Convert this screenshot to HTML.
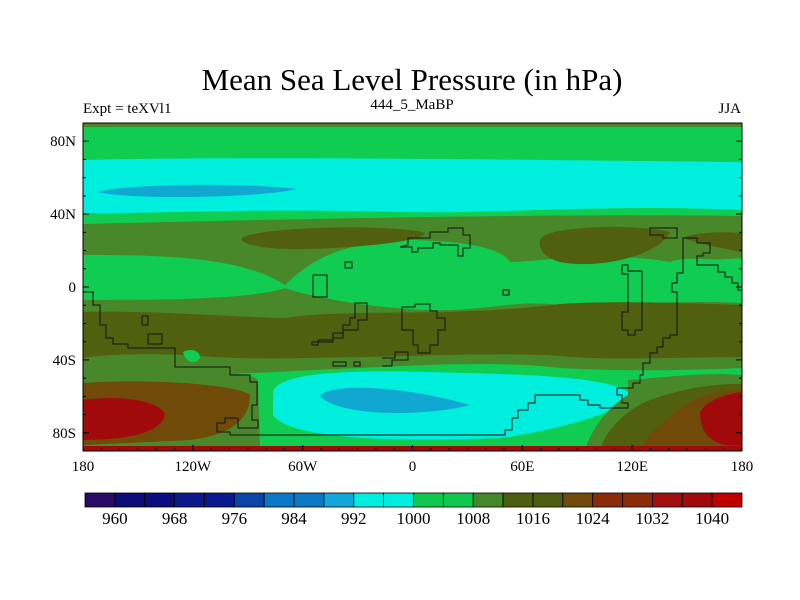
<!DOCTYPE html>
<html><head><meta charset="utf-8"><style>
html,body{margin:0;padding:0;background:#fff;}
svg{display:block;font-family:"Liberation Serif",serif;}
</style></head><body>
<svg width="800" height="600" viewBox="0 0 800 600">
<text x="412" y="90" font-size="31" text-anchor="middle">Mean Sea Level Pressure (in hPa)</text>
<text x="83" y="113" font-size="15">Expt = teXVl1</text>
<text x="412" y="109" font-size="15" text-anchor="middle">444_5_MaBP</text>
<text x="741" y="113" font-size="15" text-anchor="end">JJA</text>
<defs><clipPath id="pc"><rect x="83" y="123" width="659" height="328"/></clipPath></defs>
<g clip-path="url(#pc)">
<rect x="83" y="123" width="659" height="328" fill="#10cc50"/>
<rect x="83" y="123" width="659" height="4" fill="#48882a"/>
<path d="M83,160 C250,156 550,160 742,162 L742,210 C600,204 500,214 400,212 C250,208 150,214 83,213 Z" fill="#00eedd"/>
<path d="M98,192 C130,183 250,183 297,189 C260,198 130,200 98,192 Z" fill="#10a8d0"/>
<path d="M83,224 C250,220 550,213 742,216 L742,258 C700,262 690,255 670,262 C600,250 540,262 510,262 C500,245 450,240 400,240 C340,244 310,260 285,285 C240,255 150,255 83,255 Z" fill="#48882a"/>
<path d="M242,238 C260,226 400,224 425,233 C420,245 300,252 270,248 C250,246 240,242 242,238 Z" fill="#50600e"/>
<path d="M540,240 C545,225 640,224 670,232 C660,255 600,270 560,262 C545,258 538,250 540,240 Z" fill="#50600e"/>
<path d="M683,238 C700,230 742,232 742,234 L742,252 C720,248 700,244 683,238 Z" fill="#50600e"/>
<path d="M83,300 C150,300 250,300 285,288 C320,300 400,312 450,310 C500,308 520,300 560,305 C620,305 690,300 742,303 L742,368 C650,372 600,370 560,368 C500,360 400,366 360,368 C300,370 250,375 83,378 Z" fill="#48882a"/>
<path d="M83,312 C150,310 250,318 285,318 C350,308 450,318 560,304 C620,300 700,304 742,305 L742,357 C650,358 600,360 560,356 C500,352 430,356 360,357 C300,358 250,360 200,356 C150,352 100,355 83,358 Z" fill="#50600e"/>
<path d="M183,352 C190,348 200,350 200,358 C195,366 185,362 183,352 Z" fill="#10cc50"/>
<path d="M83,370 C200,368 250,372 258,380 L260,451 L83,451 Z" fill="#48882a"/>
<path d="M83,383 C150,378 240,385 250,395 C250,420 230,435 190,440 L83,445 Z" fill="#704a08"/>
<path d="M83,400 C120,395 160,400 165,415 C160,435 120,440 83,440 Z" fill="#a00a0a"/>
<path d="M273,392 C278,372 350,370 430,372 C500,374 620,375 630,395 C628,410 560,430 500,438 C400,442 290,440 273,415 Z" fill="#00eedd"/>
<path d="M320,396 C330,383 400,385 470,405 C430,416 340,418 320,396 Z" fill="#10a8d0"/>
<path d="M628,380 C660,378 700,372 742,375 L742,451 L585,451 C590,430 610,405 628,395 Z" fill="#48882a"/>
<path d="M645,402 C680,388 720,383 742,384 L742,451 L600,451 C605,430 625,412 645,402 Z" fill="#50600e"/>
<path d="M665,422 C685,398 720,388 742,390 L742,451 L640,451 C645,440 652,430 665,422 Z" fill="#704a08"/>
<path d="M700,412 C710,395 742,392 742,392 L742,445 C720,448 700,440 700,412 Z" fill="#a00a0a"/>
<rect x="83" y="446" width="659" height="5" fill="#a00a0a"/>
<g fill="none" stroke="#111" stroke-width="1">
<polyline points="83,292 93,292 93,305 100,305 100,325 106,325 106,338 113,338 113,344 128,344 128,348 175,348 175,367 230,367 230,375 250,375 250,382 257,382 257,405 252,405 252,420 258,420 258,428 238,428 238,418 225,418 225,423 217,423 217,432 230,432 230,435 505,435 505,430 512,430 512,418 518,418 518,410 528,410 528,403 535,403 535,395 580,395 580,400 588,400 588,405 600,405 600,408 628,408 628,403 622,403 622,395 617,395 617,388 633,388 633,383 640,383 640,375 643,375 643,363 650,363 650,353 657,353 657,347 663,347 663,338 670,338 670,335 677,335 677,292 672,292 672,283 677,283 677,273 683,273 683,238 697,238 697,243 710,243 710,253 703,253 703,256 697,256 697,265 718,265 718,272 725,272 725,277 732,277 732,283 738,283 738,290 742,290"/>
<rect x="313" y="275" width="14" height="22"/>
<rect x="142" y="316" width="6" height="9"/>
<rect x="148" y="334" width="14" height="10"/>
<polyline points="312,345 318,345 318,340 333,340 333,333 343,333 343,325 350,325 350,318 355,318 355,303 367,303 367,320 358,320 358,330 343,330 343,338 333,338 333,342 312,342 312,345"/>
<path d="M402,307 H415 V304 H430 V311 H437 V318 H445 V330 H438 V345 H430 V353 H418 V345 H413 V330 H402 Z"/>
<polyline points="400,247 408,245 408,238 430,238 430,232 448,232 448,228 463,228 463,235 470,235 470,248 463,248 463,256 458,256 458,245 440,245 440,243 433,243 433,248 418,248 418,252 412,252 412,247 400,247"/>
<path d="M622,265 H628 V271 H642 V330 H635 V335 H628 V330 H622 V312 H628 V274 H622 Z"/>
<path d="M650,228 H677 V238 H663 V235 H650 Z"/>
<rect x="345" y="262" width="7" height="6"/>
<rect x="333" y="362" width="13" height="4"/>
<rect x="354" y="362" width="6" height="4"/>
<polyline points="382,358 395,358 395,352 408,352 408,360 392,360 392,366 382,366"/>
<rect x="503" y="290" width="6" height="5"/>
</g>
</g>
<rect x="83" y="123" width="659" height="328" fill="none" stroke="#000" stroke-width="1"/>
<g id="ticks" stroke="#000" stroke-width="1"></g>
<g id="labels" font-size="15"></g>
<g id="colorbar"></g>
<script>
const lonTicks=[-180,-120,-60,0,60,120,180];
const lonLabels=["180","120W","60W","0","60E","120E","180"];
const latTicks=[80,40,0,-40,-80];
const latLabels=["80N","40N","0","40S","80S"];
const cbColors=["#2a0a66","#0c0c78","#0c0c7e","#0a1a8a","#0a1a8e","#0c44a8","#0a78c6","#0a78c2","#10a8d8","#00eee0","#00eee0","#10c850","#10c850","#44882a","#4e5e10","#4e5e10","#704a08","#8a2c0a","#8a2c0a","#a01010","#a00a0a","#c00000"];
const cbLabels=[960,968,976,984,992,1000,1008,1016,1024,1032,1040];
const NS="http://www.w3.org/2000/svg";
const X0=83,X1=742,Y0=123,Y1=451;
function xs(lon){return X0+(lon+180)/360*(X1-X0);}
function ys(lat){return Y0+(90-lat)/180*(Y1-Y0);}
const tk=document.getElementById('ticks'),lb=document.getElementById('labels');
for(let lon=-180;lon<=180;lon+=10){
 const l=document.createElementNS(NS,'line');const len=lon%60===0?6:3;
 l.setAttribute('x1',xs(lon));l.setAttribute('x2',xs(lon));l.setAttribute('y1',Y1);l.setAttribute('y2',Y1-len);
 
 
 tk.appendChild(l);}
for(let lat=-90;lat<=90;lat+=10){
 const len=lat%40===0?6:3;
 [[X0,X0+len],[X1,X1-len]].forEach(p=>{const l=document.createElementNS(NS,'line');
 l.setAttribute('x1',p[0]);l.setAttribute('x2',p[1]);l.setAttribute('y1',ys(lat));l.setAttribute('y2',ys(lat));
 
 
 tk.appendChild(l);});}
lonTicks.forEach((v,i)=>{const t=document.createElementNS(NS,'text');t.setAttribute('x',xs(v));t.setAttribute('y',471);t.setAttribute('text-anchor','middle');t.textContent=lonLabels[i];
 
 
 lb.appendChild(t);});
latTicks.forEach((v,i)=>{const t=document.createElementNS(NS,'text');t.setAttribute('x',76);t.setAttribute('y',ys(v)+5);t.setAttribute('text-anchor','end');t.textContent=latLabels[i];
 
 
 lb.appendChild(t);});
const cb=document.getElementById('colorbar');const cx0=85,cx1=742,bw=(cx1-cx0)/cbColors.length;
cbColors.forEach((c,i)=>{const r=document.createElementNS(NS,'rect');r.setAttribute('x',cx0+i*bw);r.setAttribute('y',493);r.setAttribute('width',bw);r.setAttribute('height',14);r.setAttribute('fill',c);r.setAttribute('stroke','#000');r.setAttribute('stroke-width','0.8');
 
 
 cb.appendChild(r);});
cbLabels.forEach((v,i)=>{const t=document.createElementNS(NS,'text');t.setAttribute('x',cx0+(1+2*i)*bw);t.setAttribute('y',524);t.setAttribute('text-anchor','middle');t.setAttribute('font-size','17');t.textContent=v;
 
 
 cb.appendChild(t);});
</script>
</svg>
</body></html>
